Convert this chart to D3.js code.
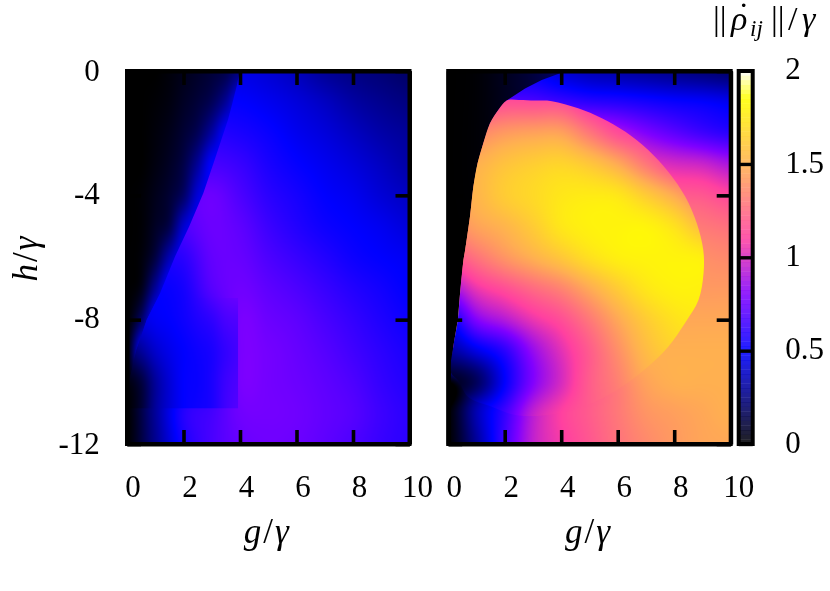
<!DOCTYPE html>
<html><head><meta charset="utf-8">
<script src="https://cdn.jsdelivr.net/npm/d3@7"></script>
<style>
html,body{margin:0;padding:0;background:#fff;overflow:hidden}
#wrap{position:relative;width:830px;height:591px}
canvas,svg{position:absolute;left:0;top:0}
text{font-family:"Liberation Serif",serif;fill:#000}
</style></head><body><div id="wrap"></div>
<script>
// ---------- axis tick labels
const gTicks=[0,2,4,6,8,10];
const hTicks=[0,-4,-8,-12];
const cbTicks=[0,0.5,1,1.5,2];
const cbLabels=["0","0.5","1","1.5","2"];
// ---------- palette
const palStops=[0,0.5,0.8,1.1,1.5,1.85,2];
const palColors=["#000000","#0000ff","#8000ff","#ff40a0","#ffb050","#ffff00","#ffffff"];
// ---------- left panel: field left of the ridge (g 0..4 step .5, h 0..-12 step 1)
const leftDarkG=[0,.5,1,1.5,2,2.5,3,3.5,4];
const leftDarkH=[0,-1,-2,-3,-4,-5,-6,-7,-8,-9,-10,-11,-12];
const leftDark=[
[0,0,0,.02,.05,.08,.11,.15,.25],
[0,0,.01,.03,.07,.11,.17,.3,.5],
[0,0,.02,.05,.1,.17,.32,.5,.5],
[0,0,.03,.07,.14,.3,.5,.5,.5],
[0,.01,.05,.1,.2,.42,.5,.5,.5],
[0,.01,.07,.15,.4,.5,.5,.5,.5],
[0,.02,.13,.35,.5,.5,.5,.5,.5],
[0,.05,.3,.52,.5,.5,.5,.5,.5],
[0,.2,.5,.5,.5,.5,.5,.5,.5],
[.02,.45,.45,.5,.5,.5,.5,.5,.5],
[.02,.1,.3,.4,.5,.5,.5,.5,.5],
[0,.08,.28,.4,.5,.5,.5,.5,.5],
[0,.05,.25,.4,.5,.5,.5,.5,.5]];
// ---------- left panel: field right of the ridge
const leftMainG=[0,1,2,3,4,5,6,7,8,9,10];
const leftMainH=[0,-1,-2,-3,-4,-5,-6,-7,-8,-9,-10,-11,-12];
const leftMain=[
[.4,.4,.4,.42,.45,.42,.37,.3,.26,.23,.2],
[.5,.5,.5,.5,.5,.47,.43,.38,.32,.28,.25],
[.55,.55,.55,.58,.56,.52,.47,.43,.38,.33,.3],
[.6,.6,.6,.66,.63,.56,.51,.47,.43,.38,.33],
[.6,.65,.7,.75,.68,.6,.55,.5,.47,.42,.38],
[.55,.6,.68,.75,.72,.64,.58,.53,.5,.47,.43],
[.5,.55,.6,.73,.74,.68,.63,.58,.53,.5,.48],
[.45,.5,.55,.7,.76,.72,.68,.63,.58,.54,.5],
[.4,.48,.53,.62,.78,.75,.72,.67,.62,.57,.53],
[.2,.4,.5,.6,.78,.77,.74,.7,.65,.6,.56],
[.03,.3,.5,.6,.78,.77,.75,.72,.68,.62,.58],
[0,.3,.58,.66,.76,.77,.76,.73,.7,.64,.6],
[0,.28,.55,.67,.74,.76,.75,.72,.68,.63,.6]];
// ---------- left panel: dimmer patch below h=-7, left of g=3.93
const patchG=[0,.5,1,1.5,2,2.5,3,3.5,4,4.5];
const patchH=[-6,-7,-8,-9,-10,-11,-12];
const patch=[
[.5,.52,.55,.58,.6,.66,.73,.74,.74,.74],
[.45,.47,.5,.52,.55,.62,.7,.74,.76,.76],
[.4,.44,.48,.5,.53,.57,.61,.67,.69,.7],
[.2,.3,.4,.46,.5,.53,.56,.62,.66,.66],
[.03,.12,.3,.42,.5,.52,.56,.64,.68,.68],
[0,.1,.3,.42,.5,.53,.56,.65,.7,.7],
[0,.1,.3,.42,.5,.53,.56,.65,.7,.7]];
// ---------- ridge line of the left panel
const ridgeG=[3.99,3.88,3.73,3.58,3.38,3.05,2.7,2.2,1.7,1.17,.7,.34,.15,.02];
const ridgeH=[0,-.5,-1.04,-1.55,-2.1,-3,-3.93,-5,-5.97,-7.15,-8,-8.97,-9.7,-10.2];
// ---------- right panel: dark field outside
const rightDarkG=[0,1,2,3,4];
const rightDarkH=[0,-3,-6,-9,-12];
const rightDark=[
[0,.01,.06,.12,.2],
[0,.01,.04,.1,.2],
[0,0,0,0,0],
[0,0,0,0,0],
[0,0,0,0,0]];
// ---------- right panel: field outside the dome
const outerG=[0,1,2,3,4,5,6,7,8,9,10];
const outerH=[0,-1,-2,-3,-4,-5,-6,-7,-8,-9,-10,-11,-12];
const outer=[
[.5,.5,.5,.5,.42,.36,.33,.3,.27,.24,.21],
[.7,.7,.7,.68,.64,.6,.58,.55,.52,.5,.47],
[1,1,1,1,1,.98,.9,.8,.72,.65,.6],
[1.2,1.2,1.2,1.2,1.2,1.2,1.15,1.05,1,.97,.9],
[1.3,1.3,1.3,1.3,1.3,1.3,1.3,1.25,1.2,1.18,1.12],
[1.35,1.35,1.35,1.35,1.35,1.35,1.35,1.35,1.33,1.3,1.27],
[1.4,1.4,1.4,1.4,1.4,1.4,1.4,1.4,1.4,1.38,1.36],
[1.43,1.43,1.43,1.43,1.43,1.43,1.43,1.43,1.43,1.42,1.42],
[1.47,1.47,1.47,1.47,1.47,1.47,1.47,1.47,1.47,1.47,1.47],
[1,1,1,1.2,1.4,1.45,1.47,1.5,1.5,1.5,1.5],
[0,.3,.55,.85,1.05,1.2,1.32,1.45,1.5,1.5,1.5],
[0,.35,.62,.93,1.1,1.2,1.3,1.4,1.44,1.47,1.5],
[0,.3,.65,.95,1.08,1.18,1.28,1.36,1.42,1.46,1.47]];
// ---------- right panel: field inside the dome
const domeFieldG=[0,1,2,3,4,5,6,7,8,9,10];
const domeFieldH=[0,-1,-2,-3,-4,-5,-6,-7,-8,-9,-10,-11,-12];
const domeField=[
[1,1,1,1,1,1,1,1,1,1,1],
[1.05,1.1,1.15,1.15,1.15,1.05,1,1,1,1,1],
[1.3,1.35,1.42,1.45,1.45,1.3,1.15,1.1,1.1,1.1,1.1],
[1.45,1.5,1.58,1.63,1.66,1.6,1.48,1.3,1.15,1.1,1.1],
[1.45,1.52,1.62,1.68,1.74,1.76,1.74,1.62,1.48,1.3,1.2],
[1.35,1.45,1.52,1.62,1.74,1.79,1.8,1.8,1.72,1.55,1.4],
[1.15,1.28,1.4,1.5,1.6,1.71,1.78,1.8,1.8,1.78,1.7],
[.85,1.05,1.15,1.25,1.34,1.48,1.62,1.74,1.79,1.79,1.78],
[.5,.8,.92,1.05,1.15,1.3,1.47,1.62,1.72,1.76,1.76],
[.3,.45,.6,.85,1.03,1.2,1.38,1.55,1.65,1.7,1.7],
[.05,.18,.5,.8,1,1.2,1.33,1.48,1.55,1.65,1.65],
[.1,.45,.65,.95,1.1,1.2,1.3,1.4,1.5,1.6,1.6],
[.1,.5,.7,1,1.1,1.2,1.3,1.4,1.5,1.55,1.55]];
// ---------- right panel boundaries
const edgeG=[3.96,3.31,2.72,2.07,1.78,1.48,1.24,1.04,.89,.77,.6,.54,.42,.34,.18,.1];
const edgeH=[-.07,-.29,-.56,-.95,-1.25,-1.68,-2.33,-2.97,-3.72,-4.69,-5.76,-6.08,-7.15,-8.01,-8.87,-9.7];
const domeG=[2.07,2.5,3.07,3.67,4.6,5.44,6.26,7.08,7.79,8.39,8.8,9.03,9.04,8.86,8.39,7.79,7.08,6.15,5.08,4.02,2.47,1.54,.7,.35];
const domeH=[-.95,-.93,-.95,-.97,-1.2,-1.52,-1.95,-2.54,-3.24,-4.04,-4.9,-5.76,-6.5,-7.37,-8.1,-8.87,-9.51,-10.16,-10.7,-11,-11.08,-10.8,-10.48,-9.95];

// ---------- layout
const W=830,H=591;
const gDomain=[0,10],hDomain=[0,-12];
const panels=[{x0:127,x1:409.5},{x0:448.2,x1:730.7}];
const yS=d3.scaleLinear().domain(hDomain).range([71,444]);
const xS=panels.map(p=>d3.scaleLinear().domain(gDomain).range([p.x0,p.x1]));
const cS=d3.scaleLinear().domain([0,2]).range([444,70.6]);
const pal=d3.scaleLinear().domain(palStops).range(palColors).clamp(true);
const lut=d3.range(1025).map(i=>{const c=d3.rgb(pal(i/512));return [c.r,c.g,c.b]});

function cr(p0,p1,p2,p3,t){return .5*(2*p1+(p2-p0)*t+(2*p0-5*p1+4*p2-p3)*t*t+(3*p1-p0-3*p2+p3)*t*t*t)}
function sampler(gs,hs,m){
  const ng=gs.length,nh=hs.length;
  const gi=d3.scaleLinear().domain([gs[0],gs[ng-1]]).range([0,ng-1]).clamp(true);
  const hi=d3.scaleLinear().domain([hs[0],hs[nh-1]]).range([0,nh-1]).clamp(true);
  const at=(r,c)=>m[Math.max(0,Math.min(nh-1,r))][Math.max(0,Math.min(ng-1,c))];
  return (g,h)=>{
    const fx=gi(g),fy=hi(h),ix=Math.min(ng-2,Math.floor(fx)),iy=Math.min(nh-2,Math.floor(fy));
    const tx=fx-ix,ty=fy-iy,rows=[];
    for(let j=-1;j<3;j++)rows.push(cr(at(iy+j,ix-1),at(iy+j,ix),at(iy+j,ix+1),at(iy+j,ix+2),tx));
    return cr(rows[0],rows[1],rows[2],rows[3],ty);
  };
}
const wrap=d3.select("#wrap");
function layer(ctx,x,sample,poly,curve){
  const off=document.createElement("canvas");off.width=W;off.height=H;
  const oc=off.getContext("2d"),x0=Math.floor(x(0)),x1=Math.ceil(x(10)),y0=71,y1=444;
  const img=oc.createImageData(x1-x0,y1-y0);
  for(let py=y0;py<y1;py++)for(let px=x0;px<x1;px++){
    const v=Math.max(0,Math.min(2,sample(x.invert(px+.5),yS.invert(py+.5))));
    const c=lut[Math.round(v*512)],k=4*((py-y0)*(x1-x0)+px-x0);
    img.data[k]=c[0];img.data[k+1]=c[1];img.data[k+2]=c[2];img.data[k+3]=255;
  }
  oc.putImageData(img,x0,y0);
  ctx.save();
  if(poly){
    const line=d3.line().x(d=>x(d[0])).y(d=>yS(d[1])).curve(curve||d3.curveLinear);
    ctx.clip(new Path2D(line(poly)+"Z"));
  }
  ctx.drawImage(off,0,0);
  ctx.restore();
}
const canvas=wrap.append("canvas").attr("width",W).attr("height",H).node();
const ctx=canvas.getContext("2d");
const zip=(a,b)=>a.map((d,i)=>[d,b[i]]);
// left panel
const ridge=zip(ridgeG,ridgeH);
layer(ctx,xS[0],sampler(leftDarkG,leftDarkH,leftDark),null);
layer(ctx,xS[0],sampler(leftMainG,leftMainH,leftMain),[...ridge,[0,-12.2],[10.2,-12.2],[10.2,0],[3.99,-.0]]);
layer(ctx,xS[0],sampler(patchG,patchH,patch),[[3.93,-7.3],[3.93,-10.85],[.02,-10.85],...ridge.filter(d=>d[1]<-7.3).reverse(),[1.1,-7.3]]);
// right panel
const edge=zip(edgeG,edgeH);
const dome=zip(domeG,domeH);
layer(ctx,xS[1],sampler(rightDarkG,rightDarkH,rightDark),null);
layer(ctx,xS[1],sampler(outerG,outerH,outer),[[4.1,0],...edge,[.04,-10.4],[0,-12.2],[10.2,-12.2],[10.2,0]]);
layer(ctx,xS[1],sampler(domeFieldG,domeFieldH,domeField),[...dome,...edge.filter(d=>d[1]<-.95).reverse()],d3.curveCatmullRomClosed);

// ---------- vector overlay
const svg=wrap.append("svg").attr("width",W).attr("height",H);
const FS=31,TW=3.6,TL=14;
const hFmt=d=>String(d);
function mathTitle(sel,parts){parts.forEach(p=>{const t=sel.append("tspan").text(p.s);if(p.it)t.attr("font-style","italic");if(p.fs)t.attr("font-size",p.fs);if(p.dy!=null)t.attr("dy",p.dy);if(p.x!=null)t.attr("x",p.x);if(p.dx!=null)t.attr("dx",p.dx);});}
xS.forEach((x,i)=>{
  const bottom=svg.append("g").attr("transform","translate(0,444)").call(d3.axisBottom(x).tickValues(gTicks).tickFormat(d3.format("d")).tickSizeInner(-TL).tickSizeOuter(0).tickPadding(0));
  const top=svg.append("g").attr("transform","translate(0,71)").call(d3.axisTop(x).tickValues(gTicks).tickFormat("").tickSizeInner(-TL).tickSizeOuter(0));
  const left=svg.append("g").attr("transform",`translate(${x(0)},0)`).call(d3.axisLeft(yS).tickValues(hTicks).tickFormat(i==0?hFmt:"").tickSizeInner(-TL).tickSizeOuter(0));
  const right=svg.append("g").attr("transform",`translate(${x(10)},0)`).call(d3.axisRight(yS).tickValues(hTicks).tickFormat("").tickSizeInner(-TL).tickSizeOuter(0));
  [bottom,top,left,right].forEach(a=>{a.select(".domain").attr("stroke","#000").attr("stroke-width",4);a.selectAll("line").attr("stroke","#000").attr("stroke-width",TW);});
  bottom.selectAll("text").attr("font-size",FS).attr("font-family",null).attr("fill","#000")
    .attr("y",null).attr("dy",null).attr("transform",(d)=>`translate(${d==10?7.5:d==0?5.5:6},52.7)`).attr("text-anchor","middle");
  if(i==0){
    left.selectAll("text").attr("font-size",FS).attr("font-family",null).attr("fill","#000").attr("text-anchor","end").attr("x",null).attr("dy",null)
      .attr("transform",d=>`translate(-27.2,${d==0?9:d==-4?7.9:d==-8?7.8:9})`);
  }
  svg.append("rect").attr("x",x(0)).attr("y",yS(0)).attr("width",x(10)-x(0)).attr("height",yS(-12)-yS(0)).attr("fill","none").attr("stroke","#000").attr("stroke-width",4);
  const t=svg.append("text").attr("x",(x(0)+x(10))/2-1).attr("y",543).attr("text-anchor","middle").attr("font-size",35).attr("letter-spacing",2);
  mathTitle(t,[{s:"g",it:1},{s:"/"},{s:"γ",it:1}]);
});
// y title
const yt=svg.append("text").attr("transform","translate(37,258) rotate(-90)").attr("text-anchor","middle").attr("font-size",35).attr("letter-spacing",2);
mathTitle(yt,[{s:"h",it:1},{s:"/"},{s:"γ",it:1}]);
// colour bar
const cbx0=738.7,cbx1=752.7,step=0.025;
svg.append("g").selectAll("rect").data(d3.range(0,2,step)).join("rect")
  .attr("x",cbx0).attr("width",cbx1-cbx0)
  .attr("y",d=>cS(d+step)).attr("height",d=>cS(d)-cS(d+step)+.3)
  .attr("fill",d=>pal(d+step/2)).attr("fill-opacity",.88);
const cbAxis=svg.append("g").attr("transform",`translate(${cbx0},0)`).call(d3.axisRight(cS).tickValues(cbTicks).tickFormat((d,i)=>cbLabels[i]).tickSizeInner(cbx1-cbx0).tickSizeOuter(0).tickPadding(0));
cbAxis.select(".domain").remove();
cbAxis.selectAll("line").attr("stroke","#000").attr("stroke-width",3.4);
cbAxis.selectAll("text").attr("font-size",FS).attr("font-family",null).attr("fill","#000").attr("text-anchor","start").attr("x",null).attr("dy",null)
  .attr("transform",`translate(46.6,8.2)`);
svg.append("rect").attr("x",cbx0).attr("y",71).attr("width",cbx1-cbx0).attr("height",373).attr("fill","none").attr("stroke","#000").attr("stroke-width",4);
const ct=svg.append("text").attr("y",30).attr("font-size",34);
mathTitle(ct,[{s:"||",x:713},{s:"ρ",it:1,x:731},{s:"˙",x:738,dy:-4},{s:"ij",it:1,fs:23,x:750,dy:10},{s:"||",x:771,dy:-6},{s:"/",x:788},{s:"γ",it:1,x:802}]);
</script></body></html>
